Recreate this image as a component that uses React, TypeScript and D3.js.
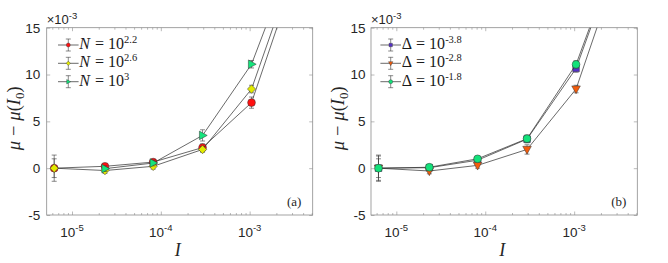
import React, { useRef, useEffect } from "react";
import * as d3 from "d3";

// shared x positions (current I) and axis ticks
const xValues = [6.3e-6, 2.35e-5, 8.2e-5, 2.95e-4, 1.05e-3, 3.8e-3];
const yTicks = [-5, 0, 5, 10, 15];
const xMajorTicks = [1e-5, 1e-4, 1e-3];
const xTickExponents = ["-5", "-4", "-3"];

// panel (a): different N
const nRed = [0, 0.2, 0.65, 2.2, 7.0, 22.6];
const nRedErr = [1.4, 0.3, 0.3, 0.4, 0.6, 0.8];
const nYellow = [0, -0.25, 0.2, 2.0, 8.45, 23.6];
const nYellowErr = [1.0, 0.3, 0.3, 0.3, 0.4, 0.8];
const nGreen = [null, -0.05, 0.55, 3.5, 11.1, 25.0];
const nGreenErr = [null, 0.3, 0.3, 0.6, 0.4, 0.8];
const nLabels = ["2.2", "2.6", "3"];

// panel (b): different Delta
const dPurple = [0, 0.05, 0.85, 3.1, 10.65, 25.3];
const dPurpleErr = [1.3, 0.3, 0.3, 0.4, 0.4, 0.8];
const dOrange = [0, -0.3, 0.3, 2.0, 8.45, 24.0];
const dOrangeErr = [1.0, 0.3, 0.3, 0.5, 0.4, 0.8];
const dGreen = [0, 0.1, 1.0, 3.15, 11.08, 25.5];
const dGreenErr = [1.4, 0.3, 0.3, 0.4, 0.4, 0.8];
const dLabels = ["-3.8", "-2.8", "-1.8"];

type Marker = "circle" | "diamond" | "triRight" | "triDown" | "square";

interface Series {
  values: (number | null)[];
  errs: (number | null)[];
  color: string;
  marker: Marker;
  exp: string;
}

interface PanelCfg {
  left: number;
  right: number;
  symbol: string;
  symbolItalic: boolean;
  tag: string;
  series: Series[];
}

const SERIF = "'Liberation Serif', 'Times New Roman', serif";
const SANS = "'Liberation Sans', Arial, Helvetica, sans-serif";
const TOP = 27.7;
const BOTTOM = 215;

const markerPath = (m: Marker, s: number) => {
  switch (m) {
    case "circle":
      return d3.symbol(d3.symbolCircle, Math.PI * s * s)()!;
    case "diamond":
      return `M0,${-s * 1.1}L${s * 1.05},0L0,${s * 1.1}L${-s * 1.05},0Z`;
    case "triRight":
      return `M${s * 1.2},0L${-s * 0.8},${-s * 1.1}L${-s * 0.8},${s * 1.1}Z`;
    case "triDown":
      return `M0,${s * 1.2}L${-s * 1.1},${-s * 0.8}L${s * 1.1},${-s * 0.8}Z`;
    case "square":
      return `M${-s * 0.85},${-s * 0.85}H${s * 0.85}V${s * 0.85}H${-s * 0.85}Z`;
  }
};

const panels: PanelCfg[] = [
  {
    left: 46.7,
    right: 312.7,
    symbol: "N",
    symbolItalic: true,
    tag: "(a)",
    series: [
      { values: nRed, errs: nRedErr, color: "#ff1010", marker: "circle", exp: nLabels[0] },
      { values: nYellow, errs: nYellowErr, color: "#e2ea00", marker: "diamond", exp: nLabels[1] },
      { values: nGreen, errs: nGreenErr, color: "#14e47c", marker: "triRight", exp: nLabels[2] },
    ],
  },
  {
    left: 371,
    right: 637.3,
    symbol: "Δ",
    symbolItalic: false,
    tag: "(b)",
    series: [
      { values: dPurple, errs: dPurpleErr, color: "#5530c8", marker: "square", exp: dLabels[0] },
      { values: dOrange, errs: dOrangeErr, color: "#f25c0c", marker: "triDown", exp: dLabels[1] },
      { values: dGreen, errs: dGreenErr, color: "#12e27a", marker: "circle", exp: dLabels[2] },
    ],
  },
];

const App: React.FC = () => {
  const svgRef = useRef<SVGSVGElement | null>(null);

  useEffect(() => {
    if (!svgRef.current) return;
    const svg = d3.select(svgRef.current);
    svg.selectAll("*").remove();

    const y = d3.scaleLinear().domain([-5, 15]).range([BOTTOM, TOP]);

    panels.forEach((p, pi) => {
      const x = d3
        .scaleLog()
        .domain([Math.pow(10, -5.285), Math.pow(10, -2.29)])
        .range([p.left, p.right]);
      const g = svg.append("g");

      // minor log ticks
      const minors: number[] = [];
      for (let k = -6; k <= -3; k++)
        for (let m = 2; m <= 9; m++) {
          const v = m * Math.pow(10, k);
          if (v > x.domain()[0] && v < x.domain()[1]) minors.push(v);
        }

      const tickStyle = (sel: any) => {
        sel.select(".domain").remove();
        sel.selectAll("line").attr("stroke", "#8c8c8c").attr("stroke-width", 0.6);
      };

      // x ticks, bottom and top, pointing inward
      g.append("g")
        .attr("transform", `translate(0,${BOTTOM})`)
        .call(d3.axisBottom(x).tickValues(xMajorTicks).tickSize(-3.5).tickFormat(() => ""))
        .call(tickStyle);
      g.append("g")
        .attr("transform", `translate(0,${BOTTOM})`)
        .call(d3.axisBottom(x).tickValues(minors).tickSize(-2).tickFormat(() => ""))
        .call(tickStyle);
      g.append("g")
        .attr("transform", `translate(0,${TOP})`)
        .call(d3.axisTop(x).tickValues(xMajorTicks).tickSize(-3.5).tickFormat(() => ""))
        .call(tickStyle);
      g.append("g")
        .attr("transform", `translate(0,${TOP})`)
        .call(d3.axisTop(x).tickValues(minors).tickSize(-2).tickFormat(() => ""))
        .call(tickStyle);

      // y ticks left (with labels) and right
      const yl = g
        .append("g")
        .attr("transform", `translate(${p.left},0)`)
        .call(
          d3
            .axisLeft(y)
            .tickValues(yTicks)
            .tickSize(-3.5)
            .tickPadding(pi === 0 ? 6.5 : 5.5)
            .tickFormat((d) => String(d))
        )
        .call(tickStyle);
      yl.selectAll("text")
        .attr("font-family", SANS)
        .attr("font-size", 13.5)
        .attr("fill", "#262626");
      g.append("g")
        .attr("transform", `translate(${p.right},0)`)
        .call(d3.axisRight(y).tickValues(yTicks).tickSize(-3.5).tickFormat(() => ""))
        .call(tickStyle);

      // box
      g.append("rect")
        .attr("x", p.left)
        .attr("y", TOP)
        .attr("width", p.right - p.left)
        .attr("height", BOTTOM - TOP)
        .attr("fill", "none")
        .attr("stroke", "#8c8c8c")
        .attr("stroke-width", 0.8);

      // x tick labels 10^k
      xMajorTicks.forEach((t, i) => {
        const tx = g
          .append("text")
          .attr("x", x(t))
          .attr("y", 236.7)
          .attr("text-anchor", "middle")
          .attr("font-family", SANS)
          .attr("font-size", 13.5)
          .attr("fill", "#262626");
        tx.append("tspan").text("10");
        tx.append("tspan").attr("dy", -6).attr("font-size", 9.5).text(xTickExponents[i]);
      });

      // x10^-3 multiplier
      const mult = g
        .append("text")
        .attr("x", p.left)
        .attr("y", 24)
        .attr("font-family", SANS)
        .attr("font-size", 13)
        .attr("fill", "#262626");
      mult.append("tspan").text("×10");
      mult.append("tspan").attr("dy", -5).attr("font-size", 9.5).text("-3");

      // axis labels
      g.append("text")
        .attr("x", (p.left + p.right) / 2 - 2)
        .attr("y", 256)
        .attr("text-anchor", "middle")
        .attr("font-family", SERIF)
        .attr("font-style", "italic")
        .attr("font-size", 18)
        .attr("fill", "#262626")
        .text("I");

      const ylab = g
        .append("text")
        .attr("transform", `translate(${p.left - 27},${(TOP + BOTTOM) / 2 - 3}) rotate(-90)`)
        .attr("text-anchor", "middle")
        .attr("font-family", SERIF)
        .attr("font-size", 18.5)
        .attr("fill", "#262626");
      ylab.append("tspan").attr("font-style", "italic").text("μ");
      ylab.append("tspan").attr("dx", 5).text("−");
      ylab.append("tspan").attr("dx", 5).attr("font-style", "italic").text("μ");
      ylab.append("tspan").text("(");
      ylab.append("tspan").attr("font-style", "italic").text("I");
      ylab.append("tspan").attr("dy", 4).attr("font-size", 13).text("0");
      ylab.append("tspan").attr("dy", -4).text(")");

      // panel tag
      g.append("text")
        .attr("x", p.right - 18.5)
        .attr("y", 206)
        .attr("text-anchor", "middle")
        .attr("font-family", SERIF)
        .attr("font-size", 13)
        .attr("fill", "#262626")
        .text(p.tag);

      // data, clipped to the axes
      const clipId = `clip-${pi}`;
      svg
        .append("clipPath")
        .attr("id", clipId)
        .append("rect")
        .attr("x", p.left)
        .attr("y", TOP)
        .attr("width", p.right - p.left)
        .attr("height", BOTTOM - TOP);
      const plot = g.append("g").attr("clip-path", `url(#${clipId})`);

      const line = d3
        .line<number | null>()
        .defined((d) => d !== null)
        .x((_, i) => x(xValues[i]))
        .y((d) => y(d as number));

      p.series.forEach((s) => {
        const pts = s.values
          .map((v, i) => ({ v, e: s.errs[i], xv: xValues[i] }))
          .filter((d) => d.v !== null) as { v: number; e: number; xv: number }[];

        const eb = plot.append("g").attr("stroke", "#3a3a3a").attr("stroke-width", 0.6);
        pts.forEach((d) => {
          const cx = x(d.xv);
          eb.append("line")
            .attr("x1", cx)
            .attr("x2", cx)
            .attr("y1", y(d.v - d.e))
            .attr("y2", y(d.v + d.e));
          [d.v - d.e, d.v + d.e].forEach((yy) =>
            eb.append("line")
              .attr("x1", cx - 2.5)
              .attr("x2", cx + 2.5)
              .attr("y1", y(yy))
              .attr("y2", y(yy))
          );
        });

        plot.append("path")
          .datum(s.values)
          .attr("d", line)
          .attr("fill", "none")
          .attr("stroke", "#2a2a2a")
          .attr("stroke-width", 0.7);

        plot.selectAll(null)
          .data(pts)
          .enter()
          .append("path")
          .attr("transform", (d) => `translate(${x(d.xv)},${y(d.v)})`)
          .attr("d", markerPath(s.marker, 3.9))
          .attr("fill", s.color)
          .attr("stroke", "#333")
          .attr("stroke-width", 0.5);
      });

      // legend
      const legX = p.left + (pi === 0 ? 21.6 : 19.7);
      const rows = [45, 63.3, 81.7];
      p.series.forEach((s, r) => {
        const ly = rows[r];
        const lg = g.append("g");
        lg.append("line")
          .attr("x1", legX - 10.3)
          .attr("x2", legX + 10.3)
          .attr("y1", ly)
          .attr("y2", ly)
          .attr("stroke", "#2a2a2a")
          .attr("stroke-width", 0.7);
        lg.append("line")
          .attr("x1", legX)
          .attr("x2", legX)
          .attr("y1", ly - 6)
          .attr("y2", ly + 6)
          .attr("stroke", "#3a3a3a")
          .attr("stroke-width", 0.6);
        [ly - 6, ly + 6].forEach((yy) =>
          lg.append("line")
            .attr("x1", legX - 2.5)
            .attr("x2", legX + 2.5)
            .attr("y1", yy)
            .attr("y2", yy)
            .attr("stroke", "#3a3a3a")
            .attr("stroke-width", 0.6)
        );
        lg.append("path")
          .attr("transform", `translate(${legX},${ly})`)
          .attr("d", markerPath(s.marker, 2))
          .attr("fill", s.color)
          .attr("stroke", "#333")
          .attr("stroke-width", 0.4);

        const t = lg
          .append("text")
          .attr("x", legX + 11)
          .attr("y", ly + 4)
          .attr("font-family", SERIF)
          .attr("font-size", 16)
          .attr("fill", "#1a1a1a");
        t.append("tspan")
          .attr("font-style", p.symbolItalic ? "italic" : "normal")
          .text(p.symbol);
        t.append("tspan").attr("dx", 1).text(" = 10");
        t.append("tspan").attr("dy", -6).attr("font-size", 10.5).text(s.exp);
      });
    });
  }, []);

  return (
    <svg
      ref={svgRef}
      width={668}
      height={263}
      style={{ position: "absolute", left: 0, top: 0, background: "#fff" }}
    ></svg>
  );
};

export default App;
